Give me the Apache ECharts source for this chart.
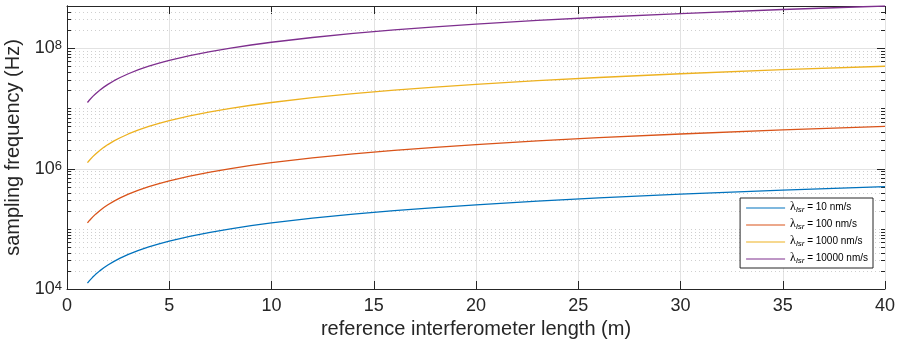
<!DOCTYPE html>
<html>
<head>
<meta charset="utf-8">
<script src="https://cdn.jsdelivr.net/npm/echarts@6/dist/echarts.min.js"></script>
<style>
html,body{margin:0;padding:0;background:#fff;}
#c{width:897px;height:345px;}
</style>
</head>
<body>
<div id="c"></div>
<script>
// reference interferometer length (m)
const lengths = [1, 1.1, 1.25, 1.4, 1.6, 1.8, 2, 2.3, 2.6, 3, 3.5, 4, 4.5, 5, 6, 7, 8, 9, 10, 12, 14, 16, 18, 20, 23, 26, 30, 35, 40];
// sampling frequency (Hz)
const f10 = [1.25e4, 1.375e4, 1.5625e4, 1.75e4, 2.0e4, 2.25e4, 2.5e4, 2.875e4, 3.25e4, 3.75e4, 4.375e4, 5.0e4, 5.625e4, 6.25e4, 7.5e4, 8.75e4, 1.0e5, 1.125e5, 1.25e5, 1.5e5, 1.75e5, 2.0e5, 2.25e5, 2.5e5, 2.875e5, 3.25e5, 3.75e5, 4.375e5, 5.0e5];
const f100 = [1.25e5, 1.375e5, 1.5625e5, 1.75e5, 2.0e5, 2.25e5, 2.5e5, 2.875e5, 3.25e5, 3.75e5, 4.375e5, 5.0e5, 5.625e5, 6.25e5, 7.5e5, 8.75e5, 1.0e6, 1.125e6, 1.25e6, 1.5e6, 1.75e6, 2.0e6, 2.25e6, 2.5e6, 2.875e6, 3.25e6, 3.75e6, 4.375e6, 5.0e6];
const f1000 = [1.25e6, 1.375e6, 1.5625e6, 1.75e6, 2.0e6, 2.25e6, 2.5e6, 2.875e6, 3.25e6, 3.75e6, 4.375e6, 5.0e6, 5.625e6, 6.25e6, 7.5e6, 8.75e6, 1.0e7, 1.125e7, 1.25e7, 1.5e7, 1.75e7, 2.0e7, 2.25e7, 2.5e7, 2.875e7, 3.25e7, 3.75e7, 4.375e7, 5.0e7];
const f10000 = [1.25e7, 1.375e7, 1.5625e7, 1.75e7, 2.0e7, 2.25e7, 2.5e7, 2.875e7, 3.25e7, 3.75e7, 4.375e7, 5.0e7, 5.625e7, 6.25e7, 7.5e7, 8.75e7, 1.0e8, 1.125e8, 1.25e8, 1.5e8, 1.75e8, 2.0e8, 2.25e8, 2.5e8, 2.875e8, 3.25e8, 3.75e8, 4.375e8, 5.0e8];
const seriesNames = ['10 nm/s', '100 nm/s', '1000 nm/s', '10000 nm/s'];
const xTicks = [0, 5, 10, 15, 20, 25, 30, 35, 40];
const yLabelValues = [1e4, 1e6, 1e8];
const yMin = 1e4, yMax = 5e8;

const colors = ['#0072BD', '#D95319', '#EDB120', '#7E2F8E'];
const ink = '#262626';
const font = 'Liberation Sans';

// all log ticks (k * 10^e) inside the y range
const yTickValues = [];
for (let e = 4; e <= 8; e++) {
  for (let k = 1; k <= 9; k++) {
    const v = k * Math.pow(10, e);
    if (v <= yMax) yTickValues.push(v);
  }
}
const isMajor = v => yLabelValues.some(m => Math.abs(m - v) / m < 1e-9);

function pair(ys) { return lengths.map((x, i) => [x, ys[i]]); }

function renderYTick(params, api) {
  const v = api.value(1);
  const p = api.coord([0, v]);
  const cs = params.coordSys;
  const y = Math.round(p[1]) + 0.5;
  const major = isMajor(v);
  const len = major ? 8 : 4;
  const left = cs.x, right = cs.x + cs.width;
  const children = [];
  if (v > yMin && v < yMax) {
    children.push({type: 'line', shape: {x1: left, y1: y, x2: right, y2: y},
      style: major ? {stroke: '#e2e2e2', lineWidth: 1} : {stroke: '#cfcfcf', lineWidth: 1, lineDash: [1, 3]}});
  }
  children.push({type: 'line', shape: {x1: left, y1: y, x2: left + len, y2: y}, style: {stroke: ink, lineWidth: 1}});
  children.push({type: 'line', shape: {x1: right - len, y1: y, x2: right, y2: y}, style: {stroke: ink, lineWidth: 1}});
  return {type: 'group', children};
}

const chart = echarts.init(document.getElementById('c'), null, {renderer: 'canvas'});
const xCommon = {
  type: 'value', min: xTicks[0], max: xTicks[xTicks.length - 1], interval: 5,
  axisLine: {show: true, lineStyle: {color: ink, width: 1}},
  axisTick: {show: true, inside: true, length: 8, lineStyle: {color: ink}},
};
function lineSeries(i, ys) {
  return {type: 'line', name: seriesNames[i], data: pair(ys), color: colors[i],
    showSymbol: false, symbol: 'none', smooth: false,
    lineStyle: {width: 1.3}, z: 3};
}
chart.setOption({
  animation: false,
  backgroundColor: '#fff',
  grid: {left: 67, right: 12, top: 6, bottom: 56, containLabel: false, outerBoundsMode: 'none'},
  legend: {
    data: seriesNames,
    orient: 'vertical', right: 24, top: 198,
    itemWidth: 39, itemHeight: 14, itemGap: 4,
    padding: [3, 5, 3, 6],
    borderColor: ink, borderWidth: 1, backgroundColor: '#fff',
    icon: 'path://M0,0 L40,0 L40,1.2 L0,1.2 Z',
    formatter: name => '{g|λ}{s|lsr}{t| = ' + name + '}',
    textStyle: {
      color: '#000', fontFamily: font,
      rich: {
        g: {fontFamily: 'Liberation Serif', fontSize: 12, color: '#000', verticalAlign: 'bottom', lineHeight: 12, padding: [0, 0, 1, 0]},
        s: {fontFamily: font, fontStyle: 'italic', fontSize: 8, color: '#000', verticalAlign: 'bottom', lineHeight: 8},
        t: {fontFamily: font, fontSize: 10, color: '#000', verticalAlign: 'bottom', lineHeight: 10, padding: [0, 0, 2, 0]}
      }
    }
  },
  xAxis: [
    Object.assign({}, xCommon, {
      position: 'bottom',
      name: 'reference interferometer length (m)', nameLocation: 'middle', nameGap: 29,
      nameTextStyle: {fontFamily: font, fontSize: 20, color: ink},
      axisLabel: {fontFamily: font, fontSize: 18, color: ink, margin: 8},
      splitLine: {show: true, lineStyle: {color: '#e2e2e2', width: 1}}
    }),
    Object.assign({}, xCommon, {
      position: 'top', axisLabel: {show: false}, splitLine: {show: false}
    })
  ],
  yAxis: [
    {
      type: 'log', logBase: 10, min: yMin, max: yMax, position: 'left',
      name: 'sampling frequency (Hz)', nameLocation: 'middle', nameGap: 36,
      nameTextStyle: {fontFamily: font, fontSize: 20, color: ink},
      axisLine: {show: true, lineStyle: {color: ink, width: 1}},
      axisTick: {show: false},
      splitLine: {show: false},
      axisLabel: {
        margin: 5, color: ink, fontFamily: font,
        formatter: v => {
          const e = Math.round(Math.log10(v));
          if (Math.abs(Math.log10(v) - e) < 1e-6 && isMajor(Math.pow(10, e))) return '{b|10}{s|' + e + '}';
          return '';
        },
        rich: {
          b: {fontFamily: font, fontSize: 18, lineHeight: 18, color: ink, verticalAlign: 'bottom', padding: [4, 0, 0, 0]},
          s: {fontFamily: font, fontSize: 13, lineHeight: 13, color: ink, verticalAlign: 'top'}
        }
      }
    },
    {
      type: 'log', logBase: 10, min: yMin, max: yMax, position: 'right',
      axisLine: {show: true, lineStyle: {color: ink, width: 1}},
      axisTick: {show: false}, axisLabel: {show: false}, splitLine: {show: false}
    }
  ],
  series: [
    {type: 'custom', name: 'yticks', silent: true, z: 1, xAxisIndex: 0, yAxisIndex: 0,
      data: yTickValues.map(v => [0, v]), encode: {x: 0, y: 1}, renderItem: renderYTick, clip: false},
    lineSeries(0, f10),
    lineSeries(1, f100),
    lineSeries(2, f1000),
    lineSeries(3, f10000)
  ]
});
</script>
</body>
</html>
